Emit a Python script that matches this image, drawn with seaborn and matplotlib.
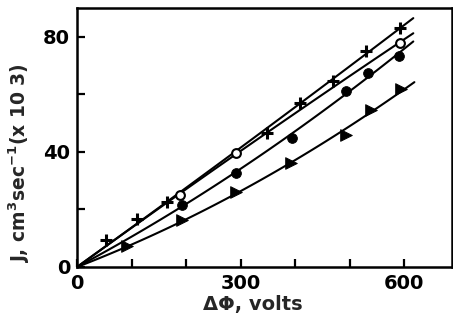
import numpy as np
import pandas as pd
import matplotlib
matplotlib.use("Agg")
import matplotlib.pyplot as plt
import seaborn as sns

# ---- data ----
star_v = [53, 110, 165, 348, 410, 469, 531, 592]
star_j = [9.5, 16.7, 22.5, 46.5, 57, 64.8, 75, 83]
open_v = [189, 291, 592]
open_j = [25, 39.6, 78]
fill_v = [192, 291, 394, 494, 534, 590]
fill_j = [21.5, 32.8, 45, 61, 67.3, 73.2]
tri_v = [92, 192, 291, 393, 494, 540, 595]
tri_j = [7.3, 16.4, 26.1, 36, 46, 54.7, 61.8]
curve_end = [617, 617, 617, 619]

x_major = [0, 300, 600]
x_minor = [100, 200, 400, 500]
y_major = [0, 40, 80]
y_minor = [20, 60]

sns.set_style("ticks")
plt.rcParams['font.family'] = ['DejaVu Sans']
plt.rcParams['font.weight'] = 'bold'

fig = plt.figure(figsize=(4.53, 3.21), dpi=100)
ax = fig.add_axes([77/453, 1-267/321, (452-77)/453, (267-8)/321])

def fit_curve(v, j, vend):
    v = np.asarray(v, float); j = np.asarray(j, float)
    A = np.column_stack([v, v**2])
    coef, *_ = np.linalg.lstsq(A, j, rcond=None)
    g = np.linspace(0, vend, 100)
    return g, coef[0]*g + coef[1]*g**2

series = [(star_v, star_j), (open_v, open_j), (fill_v, fill_j), (tri_v, tri_j)]
for (v, j), vend in zip(series, curve_end):
    g, fj = fit_curve(v, j, vend)
    sns.lineplot(x=g, y=fj, ax=ax, color='black', lw=1.5, legend=False)

sns.scatterplot(x=star_v, y=star_j, ax=ax, marker='+', s=80, color='black',
                linewidth=2.2, legend=False, zorder=3)
sns.scatterplot(x=open_v, y=open_j, ax=ax, marker='o', s=40, facecolor='white',
                edgecolor='black', linewidth=1.5, legend=False, zorder=3)
sns.scatterplot(x=fill_v, y=fill_j, ax=ax, marker='o', s=50, color='black',
                edgecolor='black', legend=False, zorder=3)
sns.scatterplot(x=tri_v, y=tri_j, ax=ax, marker='>', s=70, color='black',
                edgecolor='black', legend=False, zorder=3)

ax.set_xlim(0, 688)
ax.set_ylim(0, 90)
ax.set_xticks(x_major)
ax.set_xticks(x_minor, minor=True)
ax.set_yticks(y_major)
ax.set_yticks(y_minor, minor=True)
ax.set_xticklabels([str(t) for t in x_major])
ax.set_yticklabels([str(t) for t in y_major])
ax.tick_params(which='both', direction='in', length=6, width=1.6, colors='black',
               labelsize=14, pad=5)
for s in ax.spines.values():
    s.set_linewidth(1.8)
    s.set_color('black')

ax.set_xlabel("ΔΦ, volts", fontsize=14, fontweight='bold')
ax.xaxis.set_label_coords(0.47, -0.11)
ax.set_ylabel("J, cm$^{3}$sec$^{-1}$(x 10 3)", fontsize=13.5, fontweight='bold')
ax.yaxis.set_label_coords(-0.12, 0.40)

fig.savefig("out.png", dpi=100)
